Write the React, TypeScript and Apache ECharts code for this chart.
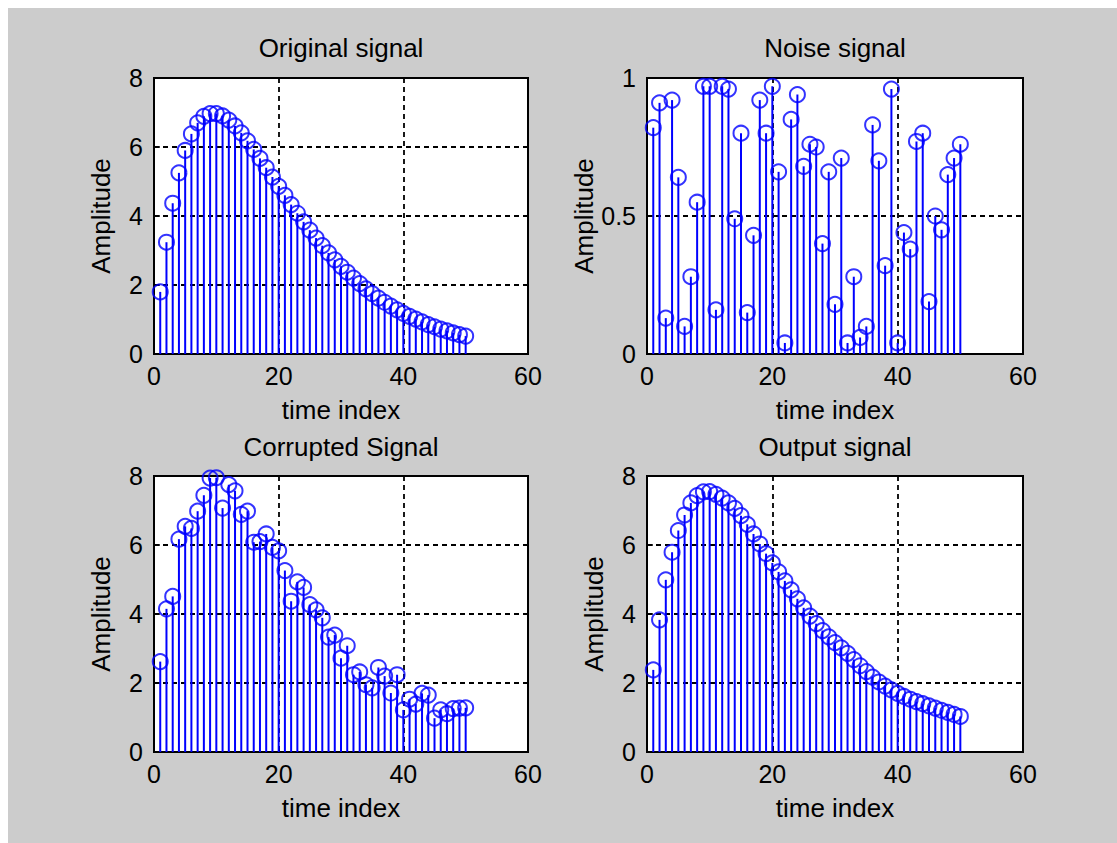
import React, { useEffect, useRef } from "react";
import * as echarts from "echarts";

const timeIndex = [
  1, 2, 3, 4, 5, 6, 7, 8, 9, 10, 11, 12, 13, 14, 15, 16, 17, 18, 19, 20, 21, 22, 23, 24, 25,
  26, 27, 28, 29, 30, 31, 32, 33, 34, 35, 36, 37, 38, 39, 40, 41, 42, 43, 44, 45, 46, 47, 48, 49, 50,
];

const originalSignal = [
  1.8, 3.24, 4.37, 5.25, 5.9, 6.38, 6.7, 6.89, 6.97, 6.97, 6.9, 6.78, 6.61, 6.41, 6.18, 5.93, 5.67,
  5.4, 5.13, 4.86, 4.6, 4.33, 4.08, 3.83, 3.59, 3.36, 3.14, 2.93, 2.73, 2.54, 2.37, 2.2, 2.04, 1.89,
  1.75, 1.62, 1.5, 1.39, 1.28, 1.18, 1.09, 1.01, 0.93, 0.85, 0.79, 0.72, 0.67, 0.61, 0.56, 0.52,
];

const noiseSignal = [
  0.82, 0.91, 0.13, 0.92, 0.64, 0.1, 0.28, 0.55, 0.97, 0.97, 0.16, 0.97, 0.96, 0.49, 0.8, 0.15, 0.43,
  0.92, 0.8, 0.97, 0.66, 0.04, 0.85, 0.94, 0.68, 0.76, 0.75, 0.4, 0.66, 0.18, 0.71, 0.04, 0.28, 0.06,
  0.1, 0.83, 0.7, 0.32, 0.96, 0.04, 0.44, 0.38, 0.77, 0.8, 0.19, 0.5, 0.45, 0.65, 0.71, 0.76,
];

const corruptedSignal = [
  2.62, 4.15, 4.51, 6.17, 6.54, 6.48, 6.98, 7.44, 7.94, 7.95, 7.07, 7.75, 7.57, 6.89, 6.98, 6.08, 6.1,
  6.32, 5.93, 5.83, 5.26, 4.37, 4.93, 4.77, 4.27, 4.12, 3.89, 3.33, 3.39, 2.72, 3.08, 2.24, 2.32, 1.95,
  1.86, 2.45, 2.2, 1.71, 2.24, 1.22, 1.53, 1.39, 1.7, 1.65, 0.98, 1.22, 1.11, 1.26, 1.27, 1.28,
];

const outputSignal = [
  2.38, 3.83, 4.99, 5.79, 6.42, 6.87, 7.22, 7.43, 7.54, 7.55, 7.47, 7.36, 7.22, 7.06, 6.85, 6.6, 6.32,
  6.03, 5.75, 5.48, 5.22, 4.96, 4.7, 4.44, 4.18, 3.94, 3.72, 3.52, 3.34, 3.17, 3.02, 2.86, 2.68, 2.5,
  2.33, 2.17, 2.03, 1.91, 1.8, 1.7, 1.61, 1.53, 1.46, 1.4, 1.34, 1.27, 1.21, 1.15, 1.09, 1.03,
];

const panelTitles = ["Original signal", "Noise signal", "Corrupted Signal", "Output signal"];
const xAxisName = "time index";
const yAxisName = "Amplitude";
const xTickRange = { min: 0, max: 60, interval: 20 };
const signalYRange = { min: 0, max: 8, interval: 2 };
const noiseYRange = { min: 0, max: 1, interval: 0.5 };

const FONT = "'Liberation Sans', Arial, Helvetica, sans-serif";
const BLUE = "#0000ff";

export default function App() {
  const ref = useRef<HTMLDivElement>(null);

  useEffect(() => {
    if (!ref.current) return;
    const chart = echarts.init(ref.current, undefined, { renderer: "svg" });

    const panels = [
      { values: originalSignal, yr: signalYRange },
      { values: noiseSignal, yr: noiseYRange },
      { values: corruptedSignal, yr: signalYRange },
      { values: outputSignal, yr: signalYRange },
    ];

    const grids = [
      { left: 146, top: 70, width: 374, height: 276 },
      { left: 639, top: 70, width: 376, height: 276 },
      { left: 146, top: 468, width: 374, height: 276 },
      { left: 639, top: 468, width: 376, height: 276 },
    ].map((g) => ({
      ...g,
      show: true,
      backgroundColor: "#ffffff",
      borderColor: "#000000",
      borderWidth: 2,
      containLabel: false,
    }));

    const splitLine = {
      show: true,
      lineStyle: { color: "#000000", type: [5, 4] as any, width: 1.8 },
    };
    const axisTick = { show: true, inside: true, length: 6, lineStyle: { color: "#000", width: 1.5 } };
    const labelStyle = { fontSize: 25, color: "#000", fontFamily: FONT };

    const xAxes = panels.map((_, i) => ({
      type: "value",
      gridIndex: i,
      min: xTickRange.min,
      max: xTickRange.max,
      interval: xTickRange.interval,
      axisLine: { show: false },
      axisTick,
      splitLine,
      axisLabel: { ...labelStyle, margin: 9 },
      name: xAxisName,
      nameLocation: "middle",
      nameGap: 43,
      nameTextStyle: { fontSize: 26, color: "#000", fontFamily: FONT },
    }));

    const yAxes = panels.map((p, i) => ({
      type: "value",
      gridIndex: i,
      min: p.yr.min,
      max: p.yr.max,
      interval: p.yr.interval,
      axisLine: { show: false },
      axisTick,
      splitLine,
      axisLabel: { ...labelStyle, margin: 11 },
      name: yAxisName,
      nameLocation: "middle",
      nameRotate: 90,
      nameGap: 40,
      nameTextStyle: { fontSize: 26, color: "#000", fontFamily: FONT },
    }));

    const series: any[] = [];
    panels.forEach((p, i) => {
      const pairs = timeIndex.map((t, k) => [t, p.values[k]]);
      series.push({
        type: "bar",
        xAxisIndex: i,
        yAxisIndex: i,
        data: pairs,
        barWidth: 2,
        itemStyle: { color: BLUE },
        silent: true,
      });
      series.push({
        type: "scatter",
        xAxisIndex: i,
        yAxisIndex: i,
        data: pairs,
        symbol: "circle",
        symbolSize: 15,
        itemStyle: { color: "rgba(0,0,0,0)", borderColor: BLUE, borderWidth: 2 },
        silent: true,
      });
    });

    const titleCenters = [
      [333, 40],
      [827, 40],
      [333, 439],
      [827, 439],
    ];

    chart.setOption({
      animation: false,
      backgroundColor: "#cccccc",
      grid: grids,
      xAxis: xAxes,
      yAxis: yAxes,
      series,
      graphic: panelTitles.map((t, i) => ({
        type: "text",
        x: titleCenters[i][0],
        y: titleCenters[i][1],
        style: {
          text: t,
          fontSize: 26,
          fontFamily: FONT,
          fill: "#000",
          textAlign: "center",
          textVerticalAlign: "middle",
        },
      })),
    });

    return () => chart.dispose();
  }, []);

  return (
    <div
      ref={ref}
      style={{ position: "absolute", left: 8, top: 8, width: 1109, height: 835 }}
    />
  );
}
